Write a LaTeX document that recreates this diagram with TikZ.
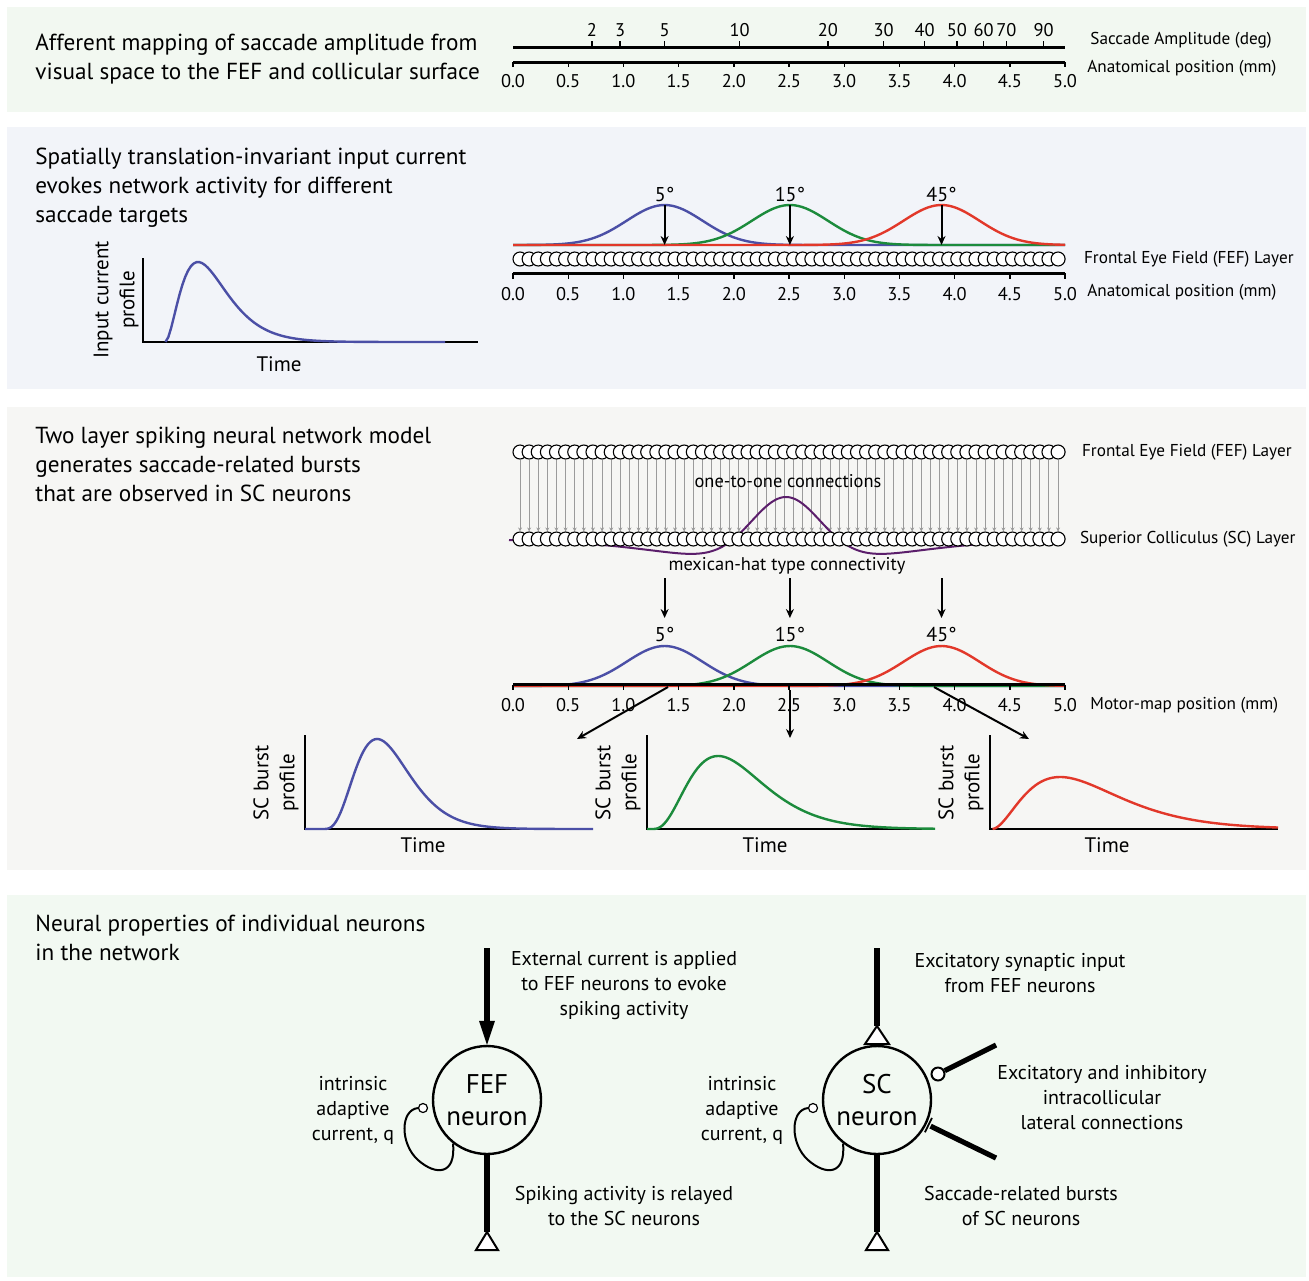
\documentclass[tikz,border=0pt]{standalone}
\usepackage{fontspec}
\setmainfont{PT Sans}
\usetikzlibrary{positioning,arrows.meta,calc}

\definecolor{gaussblue}{RGB}{75,79,166}
\definecolor{gaussgreen}{RGB}{28,139,60}
\definecolor{gaussred}{RGB}{226,56,42}
\definecolor{hatpurple}{RGB}{91,30,107}
\definecolor{wiregrey}{RGB}{155,155,155}
\definecolor{panelA}{RGB}{242,248,241}
\definecolor{panelB}{RGB}{242,244,249}
\definecolor{panelC}{RGB}{246,246,244}
\definecolor{panelD}{RGB}{242,249,242}

\pgfdeclarelayer{back}
\pgfdeclarelayer{wires}
\pgfsetlayers{back,wires,main}

\tikzset{
  heading/.style={anchor=north west, inner sep=0pt, align=left, font=\fontsize{11.6}{14.5}\selectfont},
  axtext/.style={inner sep=0pt, font=\fontsize{8.6}{10}\selectfont},
  ticklabel/.style={inner sep=0pt, font=\fontsize{9.2}{10}\selectfont},
  deglabel/.style={inner sep=0pt, font=\fontsize{10}{12}\selectfont},
  note/.style={inner sep=0pt, align=center, font=\fontsize{10}{12.5}\selectfont},
  plotlabel/.style={inner sep=0pt, align=center, rotate=90, font=\fontsize{10.5}{13}\selectfont},
  timelabel/.style={inner sep=0pt, font=\fontsize{10.5}{12}\selectfont},
  cell/.style={circle, draw, fill=white, minimum size=7pt, inner sep=0pt, line width=0.55pt},
  axisline/.style={line width=1.5pt},
  tick/.style={line width=0.7pt},
  plotaxis/.style={line width=0.75pt},
  pointer/.style={line width=1pt, -{Stealth[length=4.5pt,width=4pt]}},
  curve/.style={line width=1.2pt},
  wire/.style={wiregrey, line width=0.5pt, -{Stealth[length=2pt,width=2pt]}},
  neuron/.style={circle, draw, line width=1.2pt, minimum size=54pt, inner sep=0pt, align=center, font=\fontsize{13.5}{16}\selectfont},
  fiber/.style={line width=3pt},
  synapse/.style={draw, fill=white, line width=1pt, line join=miter},
  knob/.style={circle, draw, fill=white, minimum size=4.5pt, inner sep=0pt, line width=0.6pt},
  loopline/.style={line width=1pt},
}

\begin{document}
\begin{tikzpicture}[x=0.5pt, y=-0.5pt]
  \useasboundingbox (0,0) rectangle (1309,1280);

  % Panel backgrounds
  \begin{pgfonlayer}{back}
    \fill[panelA] (7,7) rectangle (1306,112);
    \fill[panelB] (7,127) rectangle (1306,389);
    \fill[panelC] (7,407) rectangle (1306,870);
    \fill[panelD] (7,895) rectangle (1306,1277);
  \end{pgfonlayer}

  % ---- Panel 1: amplitude to position mapping
  \node[heading] (head1) at (35,34) {Afferent mapping of saccade amplitude from\\visual space to the FEF and collicular surface};

  \draw[axisline] (513,47) -- (1065,47);
  \foreach \r in {2,3,5,10,20,30,40,50,60,70,90}{
    \pgfmathsetmacro\tx{513+154.56*ln((\r+3)/3)}
    \draw[tick] (\tx,47) -- (\tx,41);
    \node[ticklabel] (amp\r) at (\tx,30) {\r};
  }
  \draw[axisline] (513,62) -- (1065,62);
  \foreach \i in {0,...,10}{
    \pgfmathsetmacro\tx{513+55.2*\i}
    \pgfmathsetmacro\tl{\i*0.5}
    \draw[tick] (\tx,62) -- (\tx,67);
    \node[ticklabel] (posA\i) at (\tx,81) {\tl};
  }
  \node[axtext, anchor=west] (ampname) at (1090,40) {Saccade Amplitude (deg)};
  \node[axtext, anchor=west] (posnameA) at (1087,68) {Anatomical position (mm)};

  % ---- Panel 2: input current
  \node[heading] (head2) at (35,148) {Spatially translation-invariant input current\\evokes network activity for different\\saccade targets};

  % input current profile
  \draw[plotaxis] (143,258) -- (143,342) -- (478,342);
  \draw[curve, gaussblue] plot[domain=165.5:445, samples=100] (\x,{342-80*(((\x-165)/33)*exp(1-(\x-165)/33))^2});
  \node[plotlabel] (inlabel) at (116,300) {Input current\\profile};
  \node[timelabel] (intime) at (279,364) {Time};

  % input bumps
  \foreach \c/\col in {664.6/gaussblue, 789.9/gaussgreen, 941.5/gaussred}
    \draw[curve, \col] plot[domain=513:1065, samples=150] (\x,{245-40*exp(-min(0.5*((\x-\c)/38)^2,30))});
  \foreach \c/\lab in {664.6/5, 789.9/15, 941.5/45}{
    \node[deglabel] (degA\lab) at (\c,194) {\lab°};
    \coordinate (topA\lab) at (\c,205);
    \coordinate (botA\lab) at (\c,245);
    \draw[pointer] (topA\lab) -- (botA\lab);
  }

  % FEF layer
  \foreach \i in {0,...,59}
    \node[cell] (fef\i) at ({520+9.12*\i},259) {};
  \node[axtext, right=9pt of fef59] (fefname) {Frontal Eye Field (FEF) Layer};

  \draw[axisline] (513,273) -- (1065,273);
  \foreach \i in {0,...,10}{
    \pgfmathsetmacro\tx{513+55.2*\i}
    \pgfmathsetmacro\tl{\i*0.5}
    \draw[tick] (\tx,273) -- (\tx,279);
    \node[ticklabel] (posB\i) at (\tx,294) {\tl};
  }
  \node[axtext, anchor=west] (posnameB) at (1087,292) {Anatomical position (mm)};

  % ---- Panel 3: two layer network
  \node[heading] (head3) at (35,427) {Two layer spiking neural network model\\generates saccade-related bursts\\that are observed in SC neurons};

  % mexican hat (behind SC cells)
  \draw[hatpurple, line width=1pt] plot[domain=509:1060, samples=200]
    (\x,{539-(66*exp(-min(0.5*((\x-786)/35)^2,30))-24*exp(-min(0.5*((\x-786)/110)^2,30)))});

  \foreach \i in {0,...,59}{
    \node[cell] (fa\i) at ({520+9.12*\i},452) {};
    \node[cell] (sa\i) at ({520+9.12*\i},539) {};
  }
  \begin{pgfonlayer}{wires}
    \foreach \i in {0,...,59}
      \draw[wire] (fa\i.south) -- (sa\i.north);
  \end{pgfonlayer}
  \node[axtext, right=8pt of fa59] (faname) {Frontal Eye Field (FEF) Layer};
  \node[axtext, right=7pt of sa59] (saname) {Superior Colliculus (SC) Layer};
  \node[axtext, font=\fontsize{9.2}{10}\selectfont] (onetoone) at (788,481) {one-to-one connections};
  \node[axtext, font=\fontsize{9.2}{10}\selectfont] (hatname) at (787,566) {mexican-hat type connectivity};

  % SC output bumps
  \foreach \c/\col in {664.6/gaussblue, 789.9/gaussgreen, 941.5/gaussred}
    \draw[curve, \col] plot[domain=513:1065, samples=150] (\x,{686-40*exp(-min(0.5*((\x-\c)/38)^2,30))});
  \foreach \c/\lab in {664.6/5, 789.9/15, 941.5/45}{
    \node[deglabel] (degB\lab) at (\c,634) {\lab°};
    \coordinate (topB\lab) at (\c,578);
    \coordinate (botB\lab) at (\c,618);
    \draw[pointer] (topB\lab) -- (botB\lab);
  }
  \draw[axisline] (513,684.5) -- (1065,684.5);
  \foreach \i in {0,...,10}{
    \pgfmathsetmacro\tx{513+55.2*\i}
    \pgfmathsetmacro\tl{\i*0.5}
    \draw[tick] (\tx,685) -- (\tx,690);
    \node[ticklabel] (posC\i) at (\tx,705) {\tl};
  }
  \node[axtext, anchor=west] (motorname) at (1090,705) {Motor-map position (mm)};

  % arrows to burst profiles
  \coordinate (srcA) at (668,687);
  \coordinate (srcB) at (790,690);
  \coordinate (srcC) at (934,687);
  \coordinate (dstA) at (577,739);
  \coordinate (dstB) at (790,738);
  \coordinate (dstC) at (1029,739);
  \draw[pointer] (srcA) -- (dstA);
  \draw[pointer] (srcB) -- (dstB);
  \draw[pointer] (srcC) -- (dstC);

  % burst profiles
  \draw[plotaxis] (305,735) -- (305,829) -- (593,829);
  \draw[curve, gaussblue] (305,829) -- (322,829) -- plot[domain=322.5:593, samples=120] (\x,{829-90*(((\x-322)/55)*exp(1-(\x-322)/55))^4});
  \node[plotlabel] (burstA) at (276,783) {SC burst\\profile};
  \node[timelabel] (timeA) at (423,845) {Time};

  \draw[plotaxis] (647,735) -- (647,829) -- (935,829);
  \draw[curve, gaussgreen] (647,829) -- (652,829) -- plot[domain=652.5:935, samples=120] (\x,{829-73*(((\x-652)/66)*exp(1-(\x-652)/66))^3});
  \node[plotlabel] (burstB) at (618,783) {SC burst\\profile};
  \node[timelabel] (timeB) at (765,845) {Time};

  \draw[plotaxis] (990,735) -- (990,829) -- (1278,829);
  \draw[curve, gaussred] plot[domain=992.5:1278, samples=120] (\x,{829-52*(((\x-992)/68)*exp(1-(\x-992)/68))^2});
  \node[plotlabel] (burstC) at (961,783) {SC burst\\profile};
  \node[timelabel] (timeC) at (1107,845) {Time};

  % ---- Panel 4: single neurons
  \node[heading] (head4) at (35,915) {Neural properties of individual neurons\\in the network};

  % FEF neuron
  \node[neuron] (fef) at (487,1100) {FEF\\neuron};
  \coordinate (fefin) at (487,948);
  \coordinate (fefsyn) at (487,1232);
  \draw[fiber, -{Triangle[length=12pt,width=8pt,line width=0pt]}] (fefin) -- (fef.north);
  \draw[fiber] (fef.south) -- (fefsyn);
  \draw[synapse] (fefsyn) -- ++(-11,18) -- ++(22,0) -- cycle;
  \node[knob] (fefknob) at (423,1108) {};
  \draw[loopline] (fef.-128) .. controls (456,1175) and (436,1176) .. (418,1160)
    .. controls (400,1144) and (400,1110) .. (fefknob.west);
  \node[note] (fefq) at (353,1110) {intrinsic\\adaptive\\current, q};
  \node[note] (fefext) at (624,986) {External current is applied\\to FEF neurons to evoke\\spiking activity};
  \node[note] (fefrel) at (624,1205.5) {Spiking activity is relayed\\to the SC neurons};

  % SC neuron
  \node[neuron] (sc) at (877,1100) {SC\\neuron};
  \coordinate (scin) at (877,948);
  \coordinate (scinsyn) at (877,1026);
  \coordinate (scsyn) at (877,1232);
  \draw[fiber] (scin) -- (scinsyn);
  \draw[synapse] (scinsyn) -- ++(-12,18) -- ++(24,0) -- cycle;
  \draw[fiber] (sc.south) -- (scsyn);
  \draw[synapse] (scsyn) -- ++(-11,18) -- ++(22,0) -- cycle;
  \node[knob] (scknob) at (813,1108) {};
  \draw[loopline] (sc.-128) .. controls (846,1175) and (826,1176) .. (808,1160)
    .. controls (790,1144) and (790,1110) .. (scknob.west);
  \node[note] (scq) at (742,1110) {intrinsic\\adaptive\\current, q};

  % lateral connections
  \coordinate (excend) at (996,1045);
  \coordinate (inhend) at (996,1158);
  \coordinate (inhtip) at ($(sc.-26)!1pt!(inhend)$);
  \node[knob, minimum size=6.5pt, line width=1pt] (excknob) at (938,1074) {};
  \draw[fiber, line width=2.6pt] (excend) -- (excknob);
  \draw[fiber, line width=2.6pt] (inhend) -- ($(inhtip)!1.2pt!(inhend)$);
  \draw[line width=0.9pt] ($(inhtip)!4pt!90:(inhend)$) -- ($(inhtip)!4pt!-90:(inhend)$);

  \node[note] (scexc) at (1020,973.5) {Excitatory synaptic input\\from FEF neurons};
  \node[note] (sclat) at (1102,1098) {Excitatory and inhibitory\\intracollicular\\lateral connections};
  \node[note] (scbur) at (1021,1205.5) {Saccade-related bursts\\of SC neurons};
\end{tikzpicture}
\end{document}
